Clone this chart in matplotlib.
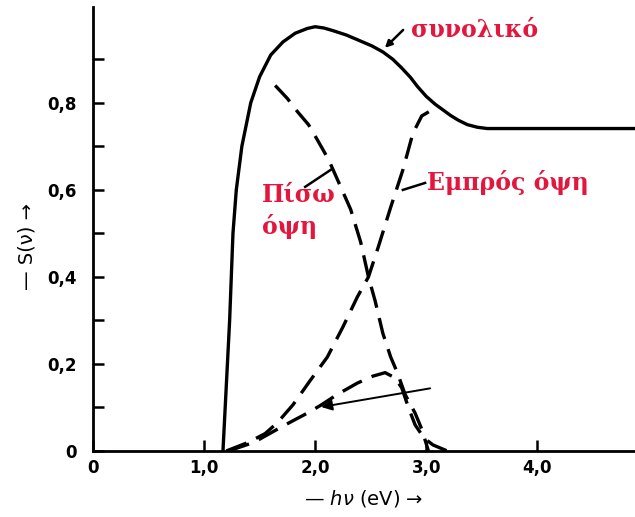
import numpy
import matplotlib
matplotlib.use('Agg')
import matplotlib.pyplot as plt

# values (hv in eV, S(v))
total_x = [1.17, 1.19, 1.21, 1.23, 1.245, 1.26, 1.29, 1.34, 1.42, 1.50, 1.60, 1.71, 1.82, 1.93, 2.00, 2.08, 2.16,
           2.28, 2.40, 2.51, 2.61, 2.70, 2.78, 2.86, 2.92, 3.00, 3.08, 3.15, 3.22, 3.29, 3.37, 3.46, 3.55,
           3.80, 4.20, 4.88]
total_y = [0.0, 0.10, 0.20, 0.30, 0.40, 0.50, 0.60, 0.70, 0.80, 0.86, 0.91, 0.94, 0.96, 0.971, 0.975, 0.972, 0.966,
           0.956, 0.943, 0.931, 0.917, 0.900, 0.880, 0.858, 0.838, 0.815, 0.797, 0.784, 0.771, 0.760, 0.750, 0.744, 0.741,
           0.741, 0.741, 0.741]

back_x = [1.64, 1.75, 1.84, 1.94, 2.02, 2.12, 2.23, 2.32, 2.41, 2.48, 2.54, 2.61, 2.68, 2.74, 2.81, 2.90,
          2.96, 3.02]
back_y = [0.84, 0.81, 0.78, 0.75, 0.715, 0.67, 0.607, 0.555, 0.48, 0.40, 0.345, 0.27, 0.216, 0.18, 0.13, 0.087,
          0.05, 0.0]

front_x = [1.20, 1.40, 1.55, 1.66, 1.80, 1.95, 2.11, 2.25, 2.38, 2.48, 2.57, 2.68, 2.79, 2.88, 2.96, 3.06]
front_y = [0.0, 0.02, 0.04, 0.065, 0.106, 0.16, 0.216, 0.285, 0.354, 0.40, 0.47, 0.56, 0.646, 0.73, 0.77, 0.785]

hump_x = [1.22, 1.45, 1.66, 1.76, 1.93, 2.05, 2.20, 2.38, 2.52, 2.63, 2.72, 2.78, 2.84, 2.90, 2.98, 3.06, 3.19]
hump_y = [0.0, 0.02, 0.05, 0.064, 0.087, 0.105, 0.13, 0.156, 0.172, 0.18, 0.168, 0.145, 0.10, 0.06, 0.03, 0.014, 0.0]

x_ticks = [0, 1, 2, 3, 4]
x_labels = ['0', '1,0', '2,0', '3,0', '4,0']
y_ticks = [0, 0.2, 0.4, 0.6, 0.8]
y_labels = ['0', '0,2', '0,4', '0,6', '0,8']
y_minor = [0.1, 0.3, 0.5, 0.7, 0.9]

red = '#e3173e'
greek = dict(family='DejaVu Serif', weight='bold', color=red)

fig = plt.figure(figsize=(6.35, 5.17), dpi=100)
ax = fig.add_axes([0.1465, 0.1277, 0.8535, 0.8585])

ax.plot(total_x, total_y, 'k-', lw=2.4, solid_capstyle='round', solid_joinstyle='round')
for xs, ys in [(back_x, back_y), (front_x, front_y), (hump_x, hump_y)]:
  ax.plot(xs, ys, 'k-', lw=2.4, dashes=(6.5, 3.2))

ax.set_xlim(0, 4.88)
ax.set_ylim(0, 1.02)
ax.spines['top'].set_visible(False)
ax.spines['right'].set_visible(False)
ax.spines['left'].set_linewidth(2)
ax.spines['bottom'].set_linewidth(2)
ax.set_xticks(x_ticks)
ax.set_xticklabels(x_labels)
ax.set_yticks(y_ticks)
ax.set_yticklabels(y_labels)
ax.set_yticks(y_minor, minor=True)
ax.tick_params(direction='in', length=8, width=1.8, labelsize=12)
ax.tick_params(axis='y', pad=12)
ax.tick_params(axis='x', pad=6)
ax.tick_params(which='minor', direction='in', length=8, width=1.8)
for lab in ax.get_xticklabels() + ax.get_yticklabels():
  lab.set_fontweight('bold')

ax.set_xlabel(r'— $h\nu$ (eV) →', fontsize=14, labelpad=8)
ax.set_ylabel('— S(ν) →', fontsize=14)
ax.yaxis.set_label_coords(-0.105, 0.46)

# labels and pointers
ax.text(2.86, 0.97, 'συνολικό', fontsize=17, va='center', ha='left', **greek)
ax.annotate('', xy=(2.61, 0.922), xytext=(2.81, 0.972),
            arrowprops=dict(arrowstyle='-|>', color='k', lw=1.8, mutation_scale=10))
ax.text(1.52, 0.59, 'Πίσω', fontsize=17, va='center', ha='left', **greek)
ax.text(1.52, 0.515, 'όψη', fontsize=17, va='center', ha='left', **greek)
ax.plot([1.91, 2.14], [0.607, 0.646], 'k-', lw=1.8)
ax.text(3.01, 0.616, 'Εμπρός όψη', fontsize=17, va='center', ha='left', **greek)
ax.plot([2.99, 2.79], [0.616, 0.60], 'k-', lw=1.8)
ax.annotate('', xy=(2.03, 0.10), xytext=(3.06, 0.145),
            arrowprops=dict(arrowstyle='-|>', color='k', lw=1.4, mutation_scale=16))

plt.savefig('out.png', dpi=100)
plt.close()
